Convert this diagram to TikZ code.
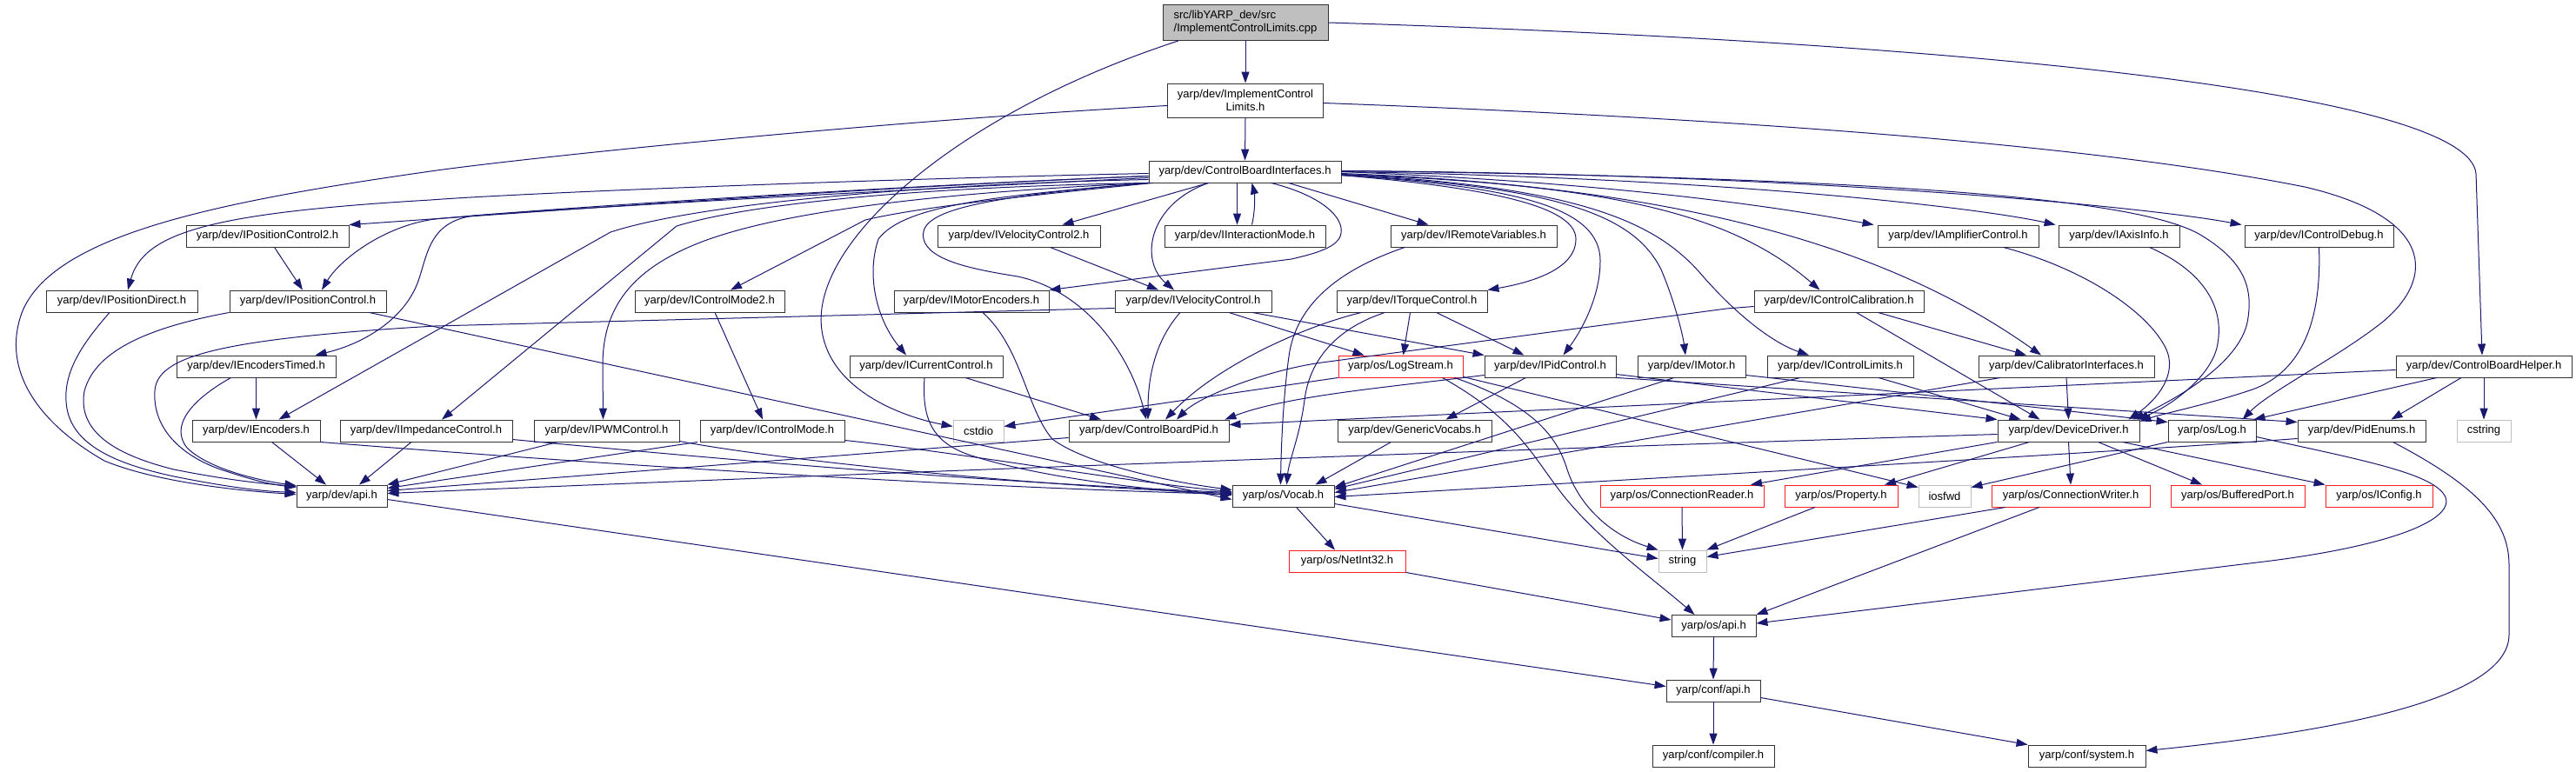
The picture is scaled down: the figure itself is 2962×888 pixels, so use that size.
\documentclass[tikz,border=0pt]{standalone}
\usepackage{fontspec}
\setmainfont{Liberation Sans}
\usetikzlibrary{arrows.meta}
\definecolor{edgec}{RGB}{25,25,112}
\definecolor{redb}{RGB}{255,30,30}
\definecolor{grayb}{RGB}{191,191,191}
\newcommand{\gfont}{\fontsize{13}{15}\selectfont}
\begin{document}
\begin{tikzpicture}[x=1pt,y=-1pt,
  nd/.style={draw=black!80, line width=0.9pt, rectangle, minimum height=25pt, inner sep=0pt, font=\gfont, text=black},
  rednd/.style={nd, draw=redb},
  graynd/.style={nd, draw=grayb},
  e/.style={draw=edgec, line width=1pt, line join=round, -{Triangle[length=13pt,width=9pt]}}]
\useasboundingbox (0,0) rectangle (2962,888);
\fill[white] (0,0) rectangle (2962,888);
% nodes
\node[nd, fill=grayb, minimum width=190pt, minimum height=41pt, align=left] (rt) at (1432,26) {src/libYARP\_dev/src\\/ImplementControlLimits.cpp};
\node[nd, minimum width=179pt, minimum height=39pt, align=center] (icl) at (1432,115.5) {yarp/dev/ImplementControl\\Limits.h};
\node[nd, minimum width=221pt] (cbi) at (1431.5,197.5) {yarp/dev/ControlBoardInterfaces.h};
% row 3
\node[nd, minimum width=187pt] (ipc2) at (307.5,271.5) {yarp/dev/IPositionControl2.h};
\node[nd, minimum width=187pt] (ivc2) at (1171.5,271.5) {yarp/dev/IVelocityControl2.h};
\node[nd, minimum width=185pt] (iim) at (1431.5,271.5) {yarp/dev/IInteractionMode.h};
\node[nd, minimum width=191pt] (irv) at (1694.5,271.5) {yarp/dev/IRemoteVariables.h};
\node[nd, minimum width=185pt] (iamp) at (2251.5,271.5) {yarp/dev/IAmplifierControl.h};
\node[nd, minimum width=139pt] (iaxis) at (2436.5,271.5) {yarp/dev/IAxisInfo.h};
\node[nd, minimum width=171pt] (idebug) at (2666.5,271.5) {yarp/dev/IControlDebug.h};
% row 4
\node[nd, minimum width=174pt] (ipd) at (140,346.5) {yarp/dev/IPositionDirect.h};
\node[nd, minimum width=180pt] (ipc) at (354,346.5) {yarp/dev/IPositionControl.h};
\node[nd, minimum width=172pt] (icm2) at (816,346.5) {yarp/dev/IControlMode2.h};
\node[nd, minimum width=178pt] (imenc) at (1117,346.5) {yarp/dev/IMotorEncoders.h};
\node[nd, minimum width=180pt] (ivc) at (1372,346.5) {yarp/dev/IVelocityControl.h};
\node[nd, minimum width=173pt] (itc) at (1623.5,346.5) {yarp/dev/ITorqueControl.h};
\node[nd, minimum width=195pt] (ical) at (2114.5,346.5) {yarp/dev/IControlCalibration.h};
% row 5
\node[nd, minimum width=183pt] (iet) at (294.5,421.5) {yarp/dev/IEncodersTimed.h};
\node[nd, minimum width=176pt] (icc) at (1065,421.5) {yarp/dev/ICurrentControl.h};
\node[rednd, minimum width=143pt] (ls) at (1610.5,421.5) {yarp/os/LogStream.h};
\node[nd, minimum width=151pt] (ipid) at (1782.5,421.5) {yarp/dev/IPidControl.h};
\node[nd, minimum width=124pt] (imot) at (1945,421.5) {yarp/dev/IMotor.h};
\node[nd, minimum width=168pt] (ilim) at (2116,421.5) {yarp/dev/IControlLimits.h};
\node[nd, minimum width=202pt] (calib) at (2376,421.5) {yarp/dev/CalibratorInterfaces.h};
\node[nd, minimum width=202pt] (cbh) at (2856,421.5) {yarp/dev/ControlBoardHelper.h};
% row 6
\node[nd, minimum width=147pt] (ienc) at (294.5,495.5) {yarp/dev/IEncoders.h};
\node[nd, minimum width=198pt] (iimp) at (490,495.5) {yarp/dev/IImpedanceControl.h};
\node[nd, minimum width=167pt] (ipwm) at (697.5,495.5) {yarp/dev/IPWMControl.h};
\node[nd, minimum width=166pt] (icm) at (888,495.5) {yarp/dev/IControlMode.h};
\node[graynd, minimum width=58pt] (cstdio) at (1125,495.5) {cstdio};
\node[nd, minimum width=184pt] (cbpid) at (1321,495.5) {yarp/dev/ControlBoardPid.h};
\node[nd, minimum width=177pt] (gv) at (1626.5,495.5) {yarp/dev/GenericVocabs.h};
\node[nd, minimum width=163pt] (dd) at (2378.5,495.5) {yarp/dev/DeviceDriver.h};
\node[nd, minimum width=101pt] (log) at (2543.5,495.5) {yarp/os/Log.h};
\node[nd, minimum width=147pt] (pe) at (2715.5,495.5) {yarp/dev/PidEnums.h};
\node[graynd, minimum width=62pt] (cstring) at (2856,495.5) {cstring};
% row 7
\node[nd, minimum width=104pt] (api) at (393,570.5) {yarp/dev/api.h};
\node[nd, minimum width=117pt] (vocab) at (1475.5,570.5) {yarp/os/Vocab.h};
\node[rednd, minimum width=188pt] (cr) at (1934,570.5) {yarp/os/ConnectionReader.h};
\node[rednd, minimum width=130pt] (prop) at (2117,570.5) {yarp/os/Property.h};
\node[graynd, minimum width=60pt] (iosfwd) at (2236,570.5) {iosfwd};
\node[rednd, minimum width=182pt] (cw) at (2381,570.5) {yarp/os/ConnectionWriter.h};
\node[rednd, minimum width=154pt] (bp) at (2573,570.5) {yarp/os/BufferedPort.h};
\node[rednd, minimum width=123pt] (icfg) at (2735.5,570.5) {yarp/os/IConfig.h};
% rows 8-11
\node[rednd, minimum width=134pt] (ni) at (1549,645.5) {yarp/os/NetInt32.h};
\node[graynd, minimum width=55pt] (str) at (1934.5,645.5) {string};
\node[nd, minimum width=97pt] (osapi) at (1970.5,720) {yarp/os/api.h};
\node[nd, minimum width=108pt] (confapi) at (1970,794.5) {yarp/conf/api.h};
\node[nd, minimum width=140pt] (comp) at (1970,869.5) {yarp/conf/compiler.h};
\node[nd, minimum width=135pt] (sys) at (2399.5,869.5) {yarp/conf/system.h};

% ---- edges ----
% root
\draw[e] (rt.south) -- (icl.north);
\draw[e] ([xshift=-77]rt.south) .. controls (1100,130) and (930,280) .. (945,380) .. controls (955,450) and (1040,480) .. ([yshift=5]cstdio.west);
\draw[e] (rt.east) .. controls (2300,50) and (2840,110) .. (2847,200) -- ([xshift=-2]cbh.north);
% ImplementControlLimits.h
\draw[e] (icl.south) -- (cbi.north);
\draw[e] ([yshift=-6]icl.west) .. controls (1000,140) and (600,182) .. (495,197) .. controls (250,232) and (60,270) .. (25,360) .. controls (0,430) and (50,490) .. (120,530) .. controls (180,555) and (280,565) .. ([yshift=2]api.west);
\draw[e] ([yshift=-3]icl.east) .. controls (2100,140) and (2450,175) .. (2650,215) .. controls (2800,250) and (2800,320) .. (2740,370) .. controls (2690,410) and (2610,450) .. ([xshift=35]log.north);
% ControlBoardInterfaces.h
\draw[e] ([yshift=-5]cbi.west) .. controls (1000,215) and (600,245) .. (ipc2.north east);
\draw[e] ([yshift=-5]cbi.west) .. controls (1000,215) and (600,242) .. (500,252) .. controls (440,260) and (390,300) .. ([xshift=16]ipc.north);
\draw[e] ([yshift=-2]cbi.west) .. controls (1000,206) and (600,222) .. (495,230) .. controls (240,245) and (165,268) .. ([xshift=7]ipd.north);
\draw[e] ([yshift=-7]cbi.west) .. controls (1000,220) and (650,240) .. (545,248) .. controls (495,255) and (492,290) .. (482,320) .. controls (468,365) and (420,395) .. ([xshift=68]iet.north);
\draw[e] ([yshift=-9]cbi.west) .. controls (1050,212) and (800,235) .. (702,267) -- ([xshift=26]ienc.north);
\draw[e] (cbi.south west) .. controls (1050,215) and (860,235) .. (778,260) -- ([xshift=18]iimp.north);
\draw[e] (cbi.south west) .. controls (1000,225) and (860,255) .. (795,283) .. controls (720,315) and (693,360) .. (693,420) -- ([xshift=-4]ipwm.north);
\draw[e] ([xshift=5]cbi.south west) .. controls (1150,228) and (1050,240) .. (995,253) -- ([xshift=24]icm2.north);
\draw[e] ([xshift=30]cbi.south) .. controls (1520,225) and (1545,250) .. (1542,268) .. controls (1540,285) and (1510,292) .. (1485,298) -- (imenc.north east);
\draw[e] (cbi.south west) .. controls (1150,225) and (1040,235) .. (1010,275) .. controls (995,320) and (1010,370) .. ([xshift=-23]icc.north);
\draw[e] ([xshift=-42]cbi.south) -- ([xshift=50]ivc2.north);
\draw[e] ([xshift=-42]cbi.south) .. controls (1320,235) and (1310,300) .. ([xshift=-22]ivc.north);
\draw[e] ([xshift=-9]cbi.south) -- ([xshift=-9]iim.north);
\draw[e] ([xshift=8]iim.north) .. controls (1443,245) and (1443,225) .. ([xshift=8]cbi.south);
\draw[e] (cbi.south west) .. controls (1110,228) and (1055,245) .. (1062,275) .. controls (1068,300) and (1120,310) .. (1170,318) .. controls (1250,335) and (1300,410) .. ([xshift=-3]cbpid.north);
\draw[e] ([xshift=50]cbi.south) -- ([xshift=-52]irv.north);
\draw[e] ([yshift=-4]cbi.east) .. controls (1700,215) and (1812,235) .. (1812,275) .. controls (1812,310) and (1760,325) .. (itc.north east);
\draw[e] ([yshift=-4]cbi.east) .. controls (1750,215) and (1840,240) .. (1840,300) .. controls (1840,345) and (1815,385) .. ([xshift=15]ipid.north);
\draw[e] ([yshift=-4]cbi.east) .. controls (1800,215) and (1880,250) .. (1910,310) .. controls (1925,345) and (1935,385) .. ([xshift=-7]imot.north);
\draw[e] ([yshift=-3]cbi.east) .. controls (1850,212) and (1990,245) .. ([xshift=-22]ical.north);
\draw[e] ([yshift=-3]cbi.east) .. controls (1830,215) and (1910,260) .. (1960,320) .. controls (2000,365) and (2040,395) .. ([xshift=-36]ilim.north);
\draw[e] ([yshift=-2]cbi.east) .. controls (1950,215) and (2180,290) .. ([xshift=-29]calib.north);
\draw[e] (cbi.east) .. controls (1900,212) and (2080,245) .. ([xshift=-4]iamp.north west);
\draw[e] (cbi.east) .. controls (2000,205) and (2280,240) .. ([xshift=-3]iaxis.north west);
\draw[e] ([yshift=1]cbi.east) .. controls (2100,200) and (2480,240) .. ([xshift=-3]idebug.north west);
\draw[e] ([yshift=1]cbi.east) .. controls (2250,205) and (2470,235) .. (2530,270) .. controls (2580,300) and (2590,330) .. (2585,365) .. controls (2580,410) and (2520,450) .. ([xshift=-8]dd.north east);
% row 3 sources
\draw[e] ([xshift=8]ipc2.south) -- ([xshift=-6]ipc.north);
\draw[e] ([xshift=36]ivc2.south) -- ([xshift=-40]ivc.north);
\draw[e] ([xshift=-79]irv.south) .. controls (1540,310) and (1490,350) .. (1482,410) .. controls (1475,460) and (1473,520) .. ([xshift=-3]vocab.north);
\draw[e] ([xshift=52]iamp.south) .. controls (2400,310) and (2470,360) .. (2490,400) .. controls (2505,430) and (2480,460) .. ([xshift=-13]dd.north east);
\draw[e] ([xshift=35]iaxis.south) .. controls (2530,310) and (2558,350) .. (2550,395) .. controls (2545,430) and (2500,465) .. ([xshift=-3]dd.north east);
\draw[e] (idebug.south) .. controls (2670,380) and (2640,430) .. (2590,448) .. controls (2540,465) and (2490,475) .. ([yshift=-2]dd.north east);
% row 4 sources
\draw[e] ([xshift=-14]ipd.south) .. controls (95,395) and (70,430) .. (77,470) .. controls (85,515) and (140,535) .. (200,548) .. controls (260,560) and (300,565) .. ([yshift=4]api.west);
\draw[e] (ipc.south west) .. controls (180,375) and (110,400) .. (97,450) .. controls (88,500) and (140,525) .. (200,540) .. controls (260,552) and (300,556) .. ([yshift=11]api.west);
\draw[e] ([xshift=-20]ipc.south east) -- ([yshift=-4]vocab.west);
\draw[e] ([xshift=6]icm2.south) -- ([xshift=-11]icm.north);
\draw[e] ([xshift=13]imenc.south) .. controls (1175,400) and (1180,470) .. (1210,505) .. controls (1250,535) and (1350,555) .. ([yshift=7]vocab.west);
\draw[e] ([yshift=-8]ivc.west) -- (500,375) .. controls (250,390) and (180,410) .. (178,450) .. controls (175,500) and (220,530) .. (260,542) .. controls (290,552) and (310,557) .. ([yshift=10]api.west);
\draw[e] ([xshift=-15]ivc.south) .. controls (1330,390) and (1320,430) .. ([xshift=-1]cbpid.north);
\draw[e] ([xshift=68]ivc.south) -- (ipid.north west);
\draw[e] ([xshift=41]ivc.south) -- ([xshift=-42]ls.north);
\draw[e] ([xshift=-2]itc.south) -- ([xshift=3]ls.north);
\draw[e] ([xshift=-31]itc.south) .. controls (1530,380) and (1505,420) .. (1500,460) .. controls (1495,500) and (1482,530) .. ([xshift=4]vocab.north);
\draw[e] ([xshift=-58]itc.south) .. controls (1500,375) and (1400,420) .. ([xshift=19]cbpid.north);
\draw[e] ([xshift=28]itc.south) -- ([xshift=-30]ipid.north);
\draw[e] ([yshift=-6]ical.west) -- (1985,355) -- (1520,417) .. controls (1460,425) and (1380,455) .. ([xshift=32]cbpid.north);
\draw[e] ([xshift=20]ical.south) -- ([xshift=-33]dd.north);
\draw[e] ([xshift=45]ical.south) -- ([xshift=-46]calib.north);
% row 5 sources
\draw[e] (iet.south) -- (ienc.north);
\draw[e] ([xshift=-29]iet.south) .. controls (220,460) and (195,490) .. (215,515) .. controls (240,540) and (300,553) .. ([yshift=12]api.west);
\draw[e] ([xshift=-2]icc.south) .. controls (1060,480) and (1070,510) .. (1120,525) .. controls (1200,550) and (1330,565) .. ([yshift=1]vocab.west);
\draw[e] ([xshift=45]icc.south) -- ([xshift=-55]cbpid.north);
\draw[e] (ls.south west) -- ([yshift=5]cstdio.east);
\draw[e] ([xshift=62]ls.south) .. controls (1760,465) and (1790,500) .. (1802,540) .. controls (1815,580) and (1850,615) .. (str.north west);
\draw[e] ([xshift=48]ls.south) .. controls (1740,480) and (1760,520) .. (1790,560) .. controls (1830,615) and (1900,665) .. ([xshift=-22]osapi.north);
\draw[e] ([yshift=-12]ls.east) -- ([yshift=10]iosfwd.west);
\draw[e] ([xshift=-28]ipid.south) -- ([xshift=36]gv.north);
\draw[e] (ipid.south east) -- ([yshift=10]pe.west);
\draw[e] ([yshift=-9]ipid.east) -- (dd.north west);
\draw[e] ([yshift=-10]ipid.west) .. controls (1600,445) and (1480,455) .. ([xshift=-5]cbpid.north east);
\draw[e] ([xshift=-20]imot.south) -- ([yshift=10]vocab.east);
\draw[e] ([yshift=-10]imot.east) -- ([yshift=10]log.west);
\draw[e] ([xshift=-46]ilim.south) -- ([yshift=8]vocab.east);
\draw[e] ([xshift=44]ilim.south) -- ([xshift=-55]dd.north);
\draw[e] ([xshift=-76]calib.south) -- ([yshift=4]vocab.east);
\draw[e] (calib.south) -- (dd.north);
\draw[e] ([yshift=-4]cbh.west) -- ([yshift=7]cbpid.east);
\draw[e] ([xshift=-54]cbh.south) -- ([xshift=-3]log.north east);
\draw[e] ([xshift=-26]cbh.south) -- ([xshift=34]pe.north);
\draw[e] (cbh.south) -- (cstring.north);
% row 6 sources
\draw[e] ([xshift=18]ienc.south) -- ([xshift=-18]api.north);
\draw[e] (ienc.south east) .. controls (700,535) and (1100,560) .. ([yshift=2]vocab.west);
\draw[e] ([xshift=-17]iimp.south) -- ([xshift=20]api.north);
\draw[e] ([yshift=-10]iimp.east) .. controls (900,535) and (1150,555) .. ([yshift=4]vocab.west);
\draw[e] ([xshift=-56]ipwm.south) -- ([yshift=13]api.east);
\draw[e] ([yshift=-12]ipwm.east) .. controls (900,530) and (1200,560) .. ([yshift=3]vocab.west);
\draw[e] ([xshift=-86]icm.south) -- ([yshift=9]api.east);
\draw[e] ([yshift=-11]icm.east) .. controls (1100,520) and (1300,555) .. ([yshift=5]vocab.west);
\draw[e] ([yshift=-8]cbpid.west) -- ([yshift=6]api.east);
\draw[e] ([xshift=-27]gv.south) -- ([xshift=37]vocab.north);
\draw[e] ([yshift=-4]dd.west) .. controls (1800,515) and (1100,540) .. ([yshift=3]api.east);
\draw[e] (dd.south west) -- ([xshift=79]cr.north);
\draw[e] ([xshift=-45]dd.south) -- ([xshift=50]prop.north);
\draw[e] (dd.south) -- (cw.north);
\draw[e] ([xshift=34]dd.south) -- ([xshift=-41]bp.north);
\draw[e] ([xshift=62]dd.south) -- (icfg.north west);
\draw[e] (log.south west) -- ([yshift=10]iosfwd.east);
\draw[e] ([yshift=-7]log.east) .. controls (2720,530) and (2800,545) .. (2812,572) .. controls (2822,600) and (2740,630) .. (2595,647) -- ([yshift=3]osapi.east);
\draw[e] ([yshift=-9]pe.west) .. controls (2400,522) and (1900,550) .. ([yshift=-1]vocab.east);
\draw[e] ([xshift=36]pe.south) .. controls (2850,560) and (2885,600) .. (2885,650) -- (2885,730) .. controls (2885,810) and (2650,845) .. ([yshift=6]sys.east);
% row 7+ sources
\draw[e] ([xshift=15]vocab.south) -- ([xshift=-14]ni.north);
\draw[e] ([yshift=-9]vocab.east) -- ([yshift=3]str.west);
\draw[e] (cr.south) -- (str.north);
\draw[e] ([xshift=-30]prop.south) -- (str.north east);
\draw[e] ([xshift=-75]cw.south) -- ([yshift=5]str.east);
\draw[e] ([xshift=-36]cw.south) -- (osapi.north east);
\draw[e] (ni.south east) -- ([yshift=7]osapi.west);
\draw[e] (osapi.south) -- (confapi.north);
\draw[e] ([yshift=-4]api.east) -- ([yshift=5]confapi.west);
\draw[e] (confapi.south) -- (comp.north);
\draw[e] ([yshift=-8]confapi.east) -- (sys.north west);
\end{tikzpicture}
\end{document}
